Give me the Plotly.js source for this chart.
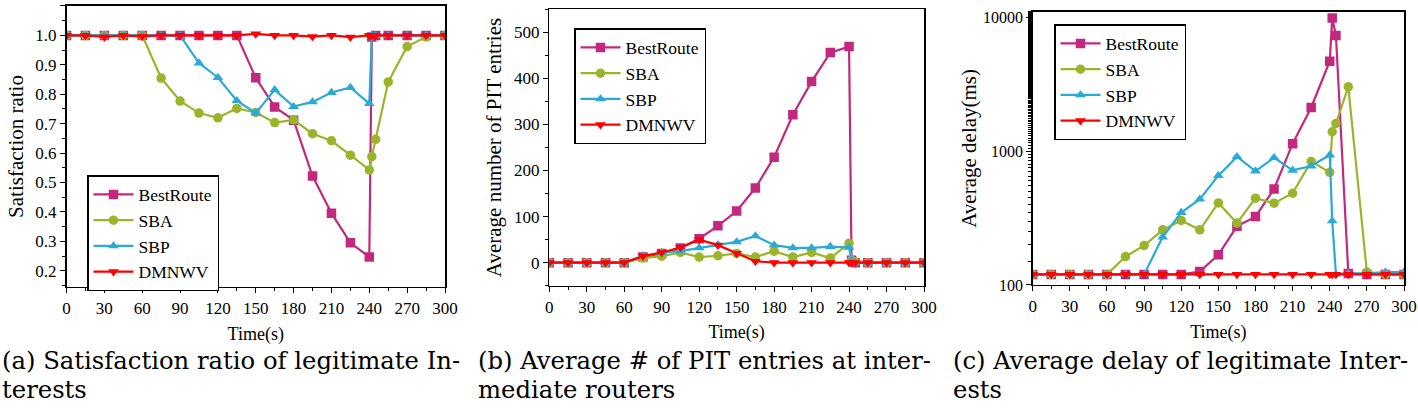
<!DOCTYPE html>
<html>
<head>
<meta charset="utf-8">
<script src="https://cdn.plot.ly/plotly-3.0.1.min.js"></script>
<style>
	body { margin : 0; background : #fff; }
	#chart { width : 1418px; height : 408px; }
</style>
</head>
<body>
<div id="chart"></div>
<script>
// time axis shared by all three panels (s)
var timeS = [0, 15, 30, 45, 60, 75, 90, 105, 120, 135, 150, 165, 180, 195, 210, 225, 240, 242, 245, 255, 270, 285, 300];

// (a) satisfaction ratio
var satBestRoute = [1, 1, 1, 1, 1, 1, 1, 1, 1, 1, 0.856, 0.757, 0.712, 0.522, 0.396, 0.295, 0.247, 0.995, 1, 1, 1, 1, 1];
var satSBA = [1, 1, 1, 1, 1, 0.855, 0.777, 0.736, 0.72, 0.752, 0.738, 0.704, 0.713, 0.666, 0.642, 0.593, 0.543, 0.588, 0.647, 0.842, 0.962, 0.995, 1];
var satSBP = [1, 1, 1, 1, 1, 1, 1, 0.906, 0.857, 0.778, 0.736, 0.815, 0.758, 0.774, 0.806, 0.823, 0.768, 1, 1, 1, 1, 1, 1];
var satDMNWV = [1, 1, 0.995, 1, 0.997, 1, 1, 1, 1, 1, 1.005, 1, 1, 0.996, 1, 0.994, 1, 1, 1, 1, 1, 1, 1];

// (b) average number of PIT entries
var pitBestRoute = [0, 0, 0, 0, 0, 12, 20, 32, 52, 80, 112, 162, 229, 321, 393, 456, 469, 5, 0, 0, 0, 0, 0];
var pitSBA = [0, 0, 0, 0, 0, 10, 14, 22, 12, 15, 20, 12, 25, 12, 22, 10, 42, 5, 2, 0, 0, 0, 0];
var pitSBP = [0, 0, 0, 0, 0, 15, 22, 25, 32, 39, 45, 58, 38, 32, 32, 35, 33, 5, 0, 0, 0, 0, 0];
var pitDMNWV = [0, 0, 0, 0, 0, 14, 22, 33, 50, 38, 20, 3, 0, 0, 0, 0, 0, 0, 0, 0, 0, 0, 0];

// (c) average delay (ms)
var delayBestRoute = [120, 120, 120, 120, 120, 120, 120, 120, 120, 126, 168, 274, 324, 521, 1135, 2113, 4680, 9830, 7270, 122, 120, 120, 120];
var delaySBA = [120, 120, 120, 120, 120, 163, 197, 258, 303, 258, 410, 290, 445, 408, 484, 837, 693, 1393, 1607, 3013, 125, 120, 120];
var delaySBP = [120, 120, 120, 120, 120, 120, 120, 228, 347, 437, 655, 908, 709, 892, 718, 773, 934, 301, 120, 122, 122, 125, 125];
var delayDMNWV = [120, 120, 120, 120, 120, 120, 120, 120, 120, 120, 120, 120, 120, 120, 120, 120, 120, 120, 120, 120, 120, 120, 120];

var seriesNames = ['BestRoute', 'SBA', 'SBP', 'DMNWV'];
var seriesColors = ['#C2287E', '#9BB52B', '#2BAAD5', '#FF0000'];
var seriesSymbols = ['square', 'circle', 'triangle-up', 'triangle-down'];

var captionLine1 = ['(a) Satisfaction ratio of legitimate In-', '(b) Average # of PIT entries at inter-', '(c) Average delay of legitimate Inter-'];
var captionLine2 = ['terests', 'mediate routers', 'ests'];

var serif = '"Liberation Serif", "DejaVu Serif", serif';
var captionFont = '"DejaVu Serif", serif';

function makeTrace(i, yVals, xa, ya, legendName) {
	return {
		x : timeS,
		y : yVals,
		xaxis : xa,
		yaxis : ya,
		legend : legendName,
		type : 'scatter',
		mode : 'lines+markers',
		name : seriesNames[i],
		line : {
			color : seriesColors[i],
			width : 2.2
		},
		marker : {
			symbol : seriesSymbols[i],
			size : 9.5,
			color : seriesColors[i]
		}
	};
}

var data = [];
var panels = [
	[satBestRoute, satSBA, satSBP, satDMNWV],
	[pitBestRoute, pitSBA, pitSBP, pitDMNWV],
	[delayBestRoute, delaySBA, delaySBP, delayDMNWV]
];
var axisIds = [['x', 'y', 'legend'], ['x2', 'y2', 'legend2'], ['x3', 'y3', 'legend3']];
for (var p = 0; p < 3; p++) {
	for (var i = 0; i < 4; i++) {
		data.push(makeTrace(i, panels[p][i], axisIds[p][0], axisIds[p][1], axisIds[p][2]));
	}
}

function xAxis(domain, anchor) {
	return {
		domain : domain,
		anchor : anchor,
		range : [0, 300],
		tickvals : [0, 30, 60, 90, 120, 150, 180, 210, 240, 270, 300],
		showline : true,
		mirror : true,
		linecolor : 'black',
		linewidth : 1.5,
		showgrid : false,
		zeroline : false,
		ticks : 'outside',
		ticklen : 5,
		tickcolor : 'black',
		minor : {
			dtick : 15,
			ticks : 'outside',
			ticklen : 3,
			tickcolor : 'black'
		},
		tickfont : {
			family : serif,
			size : 17,
			color : 'black'
		},
		title : {
			text : 'Time(s)',
			font : {
				family : serif,
				size : 18,
				color : 'black'
			},
			standoff : 10
		}
	};
}

function yAxis(domain, anchor, titleText, standoff) {
	return {
		domain : domain,
		anchor : anchor,
		showline : true,
		mirror : true,
		linecolor : 'black',
		linewidth : 1.5,
		showgrid : false,
		zeroline : false,
		ticks : 'outside',
		ticklen : 5,
		tickcolor : 'black',
		tickfont : {
			family : serif,
			size : 17,
			color : 'black'
		},
		title : {
			text : titleText,
			font : {
				family : serif,
				size : 21,
				color : 'black'
			},
			standoff : standoff
		}
	};
}

function legendBox(x, y) {
	return {
		x : x,
		y : y,
		xanchor : 'left',
		yanchor : 'top',
		bgcolor : 'white',
		bordercolor : 'black',
		borderwidth : 1.5,
		itemwidth : 40,
		tracegroupgap : 0,
		font : {
			family : serif,
			size : 17.5,
			color : 'black'
		}
	};
}

var yA = yAxis([0.2966, 0.9853], 'x', 'Satisfaction ratio', 6);
yA.range = [0.145, 1.1];
yA.dtick = 0.1;
yA.tickformat = '.1f';
yA.minor = { dtick : 0.05, ticks : 'outside', ticklen : 3, tickcolor : 'black' };

var yB = yAxis([0.2998, 0.9772], 'x2', 'Average number of PIT entries', 6);
yB.range = [-50, 550];
yB.dtick = 100;
yB.minor = { dtick : 50, ticks : 'outside', ticklen : 3, tickcolor : 'black' };

var yC = yAxis([0.3015, 0.9713], 'x3', 'Average delay(ms)', 0);
yC.type = 'log';
yC.range = [2, 4.04];
yC.tickvals = [100, 1000, 10000];
yC.ticktext = ['100', '1000', '10000'];
yC.tickfont.size = 16;
yC.minor = { ticks : 'outside', ticklen : 3, tickcolor : 'black' };

var annotations = [];
var captionX = [0, 476, 951];
for (var c = 0; c < 3; c++) {
	annotations.push({
		text : captionLine1[c],
		xref : 'paper', yref : 'paper',
		x : captionX[c] / 1418, y : 1 - 360 / 408,
		xanchor : 'left', yanchor : 'middle',
		showarrow : false,
		font : { family : captionFont, size : 24.3, color : 'black' }
	});
	annotations.push({
		text : captionLine2[c],
		xref : 'paper', yref : 'paper',
		x : captionX[c] / 1418, y : 1 - 389 / 408,
		xanchor : 'left', yanchor : 'middle',
		showarrow : false,
		font : { family : captionFont, size : 24.3, color : 'black' }
	});
}

var layout = {
	width : 1418,
	height : 408,
	margin : { l : 0, r : 0, t : 0, b : 0 },
	paper_bgcolor : 'white',
	plot_bgcolor : 'white',
	showlegend : true,
	xaxis : xAxis([66.5 / 1418, 445 / 1418], 'y'),
	yaxis : yA,
	xaxis2 : xAxis([549.3 / 1418, 924 / 1418], 'y2'),
	yaxis2 : yB,
	xaxis3 : xAxis([1032.7 / 1418, 1404 / 1418], 'y3'),
	yaxis3 : yC,
	legend : legendBox(87 / 1418, 1 - 175 / 408),
	legend2 : legendBox(574 / 1418, 1 - 28 / 408),
	legend3 : legendBox(1054 / 1418, 1 - 24 / 408),
	annotations : annotations
};

var config = {
	displayModeBar : false,
	staticPlot : true
};
Plotly.newPlot(document.getElementById('chart'), data, layout, config);
</script>
</body>
</html>
